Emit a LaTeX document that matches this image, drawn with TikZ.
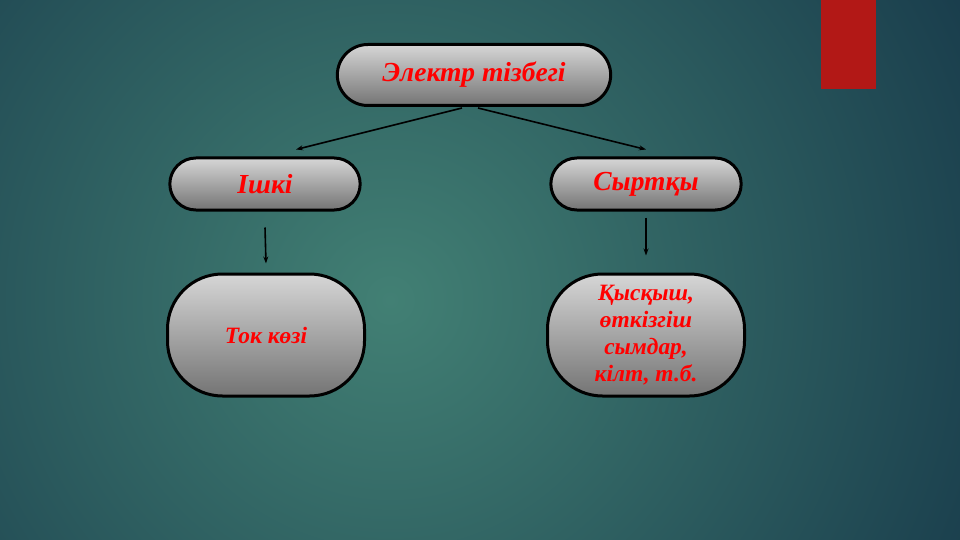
\documentclass[tikz,border=0pt]{standalone}
\usepackage{fontspec}
\setmainfont{Liberation Serif}
\usetikzlibrary{shapes.misc,arrows.meta}

\definecolor{bgin}{RGB}{66,128,116}
\definecolor{bgout}{RGB}{21,54,72}
\definecolor{tabred}{RGB}{178,24,22}
\definecolor{boxtop}{RGB}{214,214,214}
\definecolor{boxbot}{RGB}{116,116,116}

\begin{document}
\begin{tikzpicture}[x=1pt,y=-1pt,
    pill/.style={rounded rectangle, draw=black, line width=3pt,
        top color=boxtop, bottom color=boxbot, text=red,
        font=\bfseries\itshape\fontsize{27.5}{32}\selectfont},
    blob/.style={rectangle, rounded corners=55pt, draw=black, line width=3pt,
        top color=boxtop, bottom color=boxbot, text=red, align=center,
        minimum width=197pt, minimum height=122pt,
        font=\bfseries\itshape\fontsize{23.4}{27}\selectfont},
    link/.style={-{Stealth[length=7pt,width=5pt]}, line width=1.6pt}]

    \useasboundingbox (0,0) rectangle (960,540);
    \clip (0,0) rectangle (960,540);
    \fill[bgout] (0,0) rectangle (960,540);
    \shade[inner color=bgin, outer color=bgout] (390,300) circle (720);
    \fill[tabred] (821,0) rectangle (876,89);

    \node[pill, minimum width=280pt, minimum height=61pt] (tizbek) at (474,75) {Электр тізбегі};
    \node[pill, minimum width=197pt, minimum height=52pt] (ishki) at (265,184) {Ішкі};
    \node[pill, minimum width=197pt, minimum height=52pt] (syrtqy) at (646,184) {Сыртқы};

    \node[blob] (tok) at (266,335) {Ток көзі};
    \node[blob] (qysqysh) at (646,335) {Қысқыш,\\өткізгіш\\сымдар,\\кілт, т.б.};

    \draw[link] ([xshift=-12pt,yshift=-1pt]tizbek.south) -- ([xshift=31pt,yshift=7pt]ishki.north);
    \draw[link] ([xshift=4pt,yshift=-1pt]tizbek.south) -- ([yshift=7pt]syrtqy.north);

    \draw[link] ([yshift=-16pt]ishki.south) -- ([yshift=9pt]tok.north);
    \draw[link] ([yshift=-6pt]syrtqy.south) -- ([yshift=17pt]qysqysh.north);

  \end{tikzpicture}
\end{document}
